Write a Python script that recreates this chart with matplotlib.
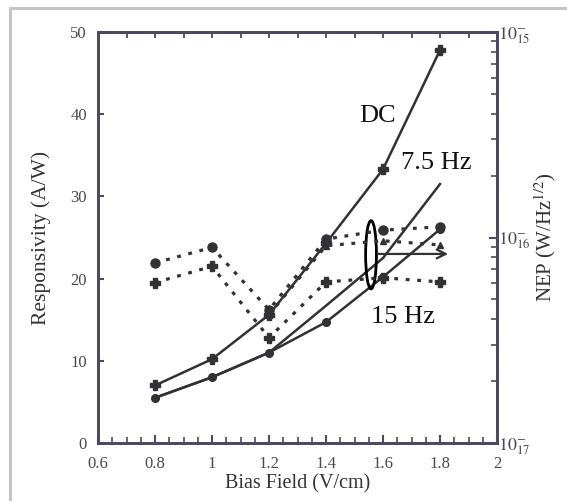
import numpy as np
import matplotlib
matplotlib.use("Agg")
import matplotlib.pyplot as plt
from matplotlib.patches import Ellipse, Rectangle
from matplotlib.ticker import FixedLocator, FixedFormatter, MultipleLocator, NullFormatter, LogLocator

plt.rcParams['font.family'] = ['Liberation Serif', 'DejaVu Serif']
plt.rcParams['mathtext.fontset'] = 'stix'

# ---- data ----
bias = [0.8, 1.0, 1.2, 1.4, 1.6, 1.8]
resp_dc = [7.0, 10.2, 15.6, 24.3, 33.3, 47.8]
resp_75 = [5.5, 8.0, 11.0, 16.7, 22.5, 31.5]
resp_15 = [5.5, 8.0, 11.0, 14.7, 20.2, 26.0]
nep_a = [7.52e-17, 8.95e-17, 4.45e-17, 9.82e-17, 1.086e-16, 1.127e-16]
nep_b = [np.nan, np.nan, 4.21e-17, 9.12e-17, 9.64e-17, 9.2e-17]
nep_c = [6.03e-17, 7.24e-17, 3.25e-17, 6.08e-17, 6.37e-17, 6.08e-17]
x_ticks = [0.6, 0.8, 1.0, 1.2, 1.4, 1.6, 1.8, 2.0]
x_ticklabels = ['0.6', '0.8', '1', '1.2', '1.4', '1.6', '1.8', '2']
y_ticks = [0, 10, 20, 30, 40, 50]
nep_ticks = [1e-17, 1e-16, 1e-15]
nep_ticklabels = [r'$10^{-}_{17}$', r'$10^{-}_{16}$', r'$10^{-}_{15}$']

W, H = 567, 501
fig = plt.figure(figsize=(W/100, H/100), dpi=100)
fig.patch.set_facecolor('white')
fig.patches.append(Rectangle((10/W, -0.1), 1.2, 1 - 8/H + 0.1, transform=fig.transFigure,
                             fill=False, edgecolor='#c4c4c4', lw=2.2))

ax = fig.add_axes([98/W, 1 - 443/H, (497-98)/W, (443-32)/H])
spine_col = '#4e4860'
line_col = '#333036'
tick_col = '#4a4a4a'

ax.plot(bias, resp_dc, color=line_col, lw=1.8, marker='P', ms=7.5, mec=line_col, mfc=line_col, zorder=3)
ax.plot(bias, resp_75, color=line_col, lw=1.8, zorder=3)
ax.plot(bias, resp_15, color=line_col, lw=1.8, marker='o', ms=5.5, mec=line_col, mfc=line_col, zorder=3)

ax.set_xlim(0.6, 2.0)
ax.set_ylim(0, 50)
ax.xaxis.set_major_locator(FixedLocator(x_ticks))
ax.xaxis.set_major_formatter(FixedFormatter(x_ticklabels))
ax.xaxis.set_minor_locator(MultipleLocator(0.05))
ax.yaxis.set_major_locator(FixedLocator(y_ticks))
ax.tick_params(axis='both', which='both', direction='in', color=spine_col, labelcolor=tick_col,
               labelsize=12, top=False, right=False)
ax.tick_params(axis='x', which='major', length=6, width=1.5, pad=9)
ax.tick_params(axis='x', which='minor', length=4, width=1.2)
ax.tick_params(axis='y', which='major', length=4, width=1.5, pad=8)
for s in ax.spines.values():
    s.set_color(spine_col)
    s.set_linewidth(2)

sec = ax.secondary_xaxis('top')
sec.xaxis.set_major_locator(MultipleLocator(0.1))
sec.xaxis.set_major_formatter(NullFormatter())
sec.tick_params(direction='in', length=4, width=1.3, color=spine_col)
sec.spines['top'].set_color(spine_col)
sec.spines['top'].set_linewidth(2)

ax.set_xlabel('Bias Field (V/cm)', fontsize=14.5, color='#333333', labelpad=2)
ax.set_ylabel('Responsivity (A/W)', fontsize=15.5, color='#333333', labelpad=14)

ax2 = ax.twinx()
ax2.set_yscale('log')
ax2.set_ylim(1e-17, 1e-15)
dot = (0, (1.2, 2.4))
ax2.plot(bias, nep_a, color=line_col, lw=2.3, ls=dot, marker='o', ms=6.5, mec=line_col, mfc=line_col)
ax2.plot(bias, nep_b, color=line_col, lw=2.3, ls=dot, marker='^', ms=4, mec=line_col, mfc=line_col)
ax2.plot(bias, nep_c, color=line_col, lw=2.3, ls=dot, marker='P', ms=7.5, mec=line_col, mfc=line_col)
ax2.yaxis.set_major_locator(FixedLocator(nep_ticks))
ax2.yaxis.set_major_formatter(FixedFormatter(nep_ticklabels))
ax2.yaxis.set_minor_locator(LogLocator(base=10, subs=np.arange(2, 10)))
ax2.yaxis.set_minor_formatter(NullFormatter())
ax2.tick_params(axis='y', which='both', direction='in', color=spine_col, labelcolor=tick_col,
                labelsize=13, pad=1)
ax2.tick_params(axis='y', which='major', length=6, width=1.5)
ax2.tick_params(axis='y', which='minor', length=4, width=1.2)
for s in ax2.spines.values():
    s.set_color(spine_col)
    s.set_linewidth(2)
ax2.set_ylabel(r'NEP (W/Hz$^{1/2}$)', fontsize=15, color='#333333', labelpad=1)

# annotations
ax.add_patch(Ellipse((1.558, 22.9), 0.038, 8.3, fill=False, edgecolor='black', lw=2, zorder=5))
ax.annotate('', xy=(1.838, 23.0), xytext=(1.572, 23.0),
            arrowprops=dict(arrowstyle='->', lw=1.6, color=line_col, mutation_scale=16), zorder=5)
ax.text(1.582, 39.8, 'DC', fontsize=19, ha='center', va='center', color='#111111')
ax.text(1.786, 34.1, '7.5 Hz', fontsize=19, ha='center', va='center', color='#111111')
ax.text(1.670, 15.3, '15 Hz', fontsize=19, ha='center', va='center', color='#111111')

fig.savefig('out.png', dpi=100)
